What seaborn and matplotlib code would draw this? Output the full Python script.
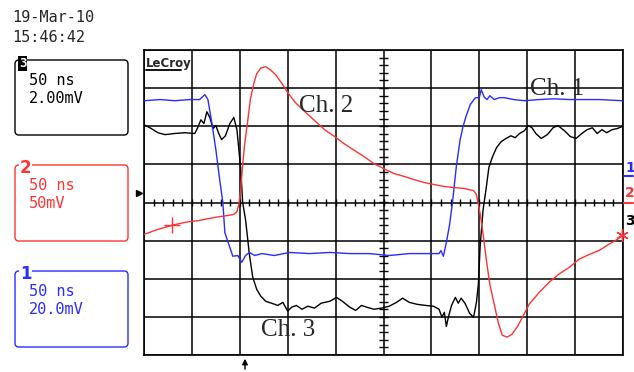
import numpy as np
import pandas as pd
import seaborn as sns
import matplotlib.pyplot as plt
from matplotlib.patches import FancyBboxPatch

# time in ns (50 ns/div, 10 div), level in screen divisions
ch1_t = [0, 16.7, 32, 48, 58, 63.5, 66.7, 70.8, 75, 79, 82.3, 84.4, 87.5, 92.7, 97.9, 102, 106, 110,
         115.6, 123, 136, 152, 173, 194, 215, 235, 256, 277, 298, 308, 310, 312.5, 315.6, 319, 322,
         326, 330, 333, 336, 340.6, 346, 350, 352, 355, 358, 361, 365.6, 371, 376, 386, 397, 412.5,
         428, 444, 459, 475, 499]
ch1_v = [2.67, 2.70, 2.67, 2.70, 2.70, 2.83, 2.70, 2.09, 1.39, 0.60, 0.0, -0.79, -1.02, -1.41, -1.39,
         -1.57, -1.39, -1.31, -1.39, -1.34, -1.39, -1.31, -1.34, -1.31, -1.34, -1.34, -1.39, -1.34,
         -1.34, -1.34, -1.26, -1.41, -1.05, -0.58, 0.0, 0.94, 1.65, 1.99, 2.25, 2.57, 2.75, 2.75, 2.96,
         2.77, 2.70, 2.80, 2.70, 2.75, 2.75, 2.70, 2.67, 2.70, 2.72, 2.70, 2.70, 2.70, 2.67]

ch2_t = [0, 11.5, 22, 29, 42.7, 58, 74, 87.5, 94, 97, 99, 101, 103, 105, 108, 111, 114.6, 117.7, 122,
         127, 132, 137.5, 144, 151, 158, 168, 178, 188.5, 199, 209, 220, 230, 240, 250, 261, 272, 282,
         293, 303, 313.5, 324, 334, 344, 347, 349, 351, 354, 357, 361, 365.6, 370, 374, 379, 384, 390,
         395, 402, 412.5, 423, 433, 444, 454, 465, 475, 485, 494, 499]
ch2_v = [-0.84, -0.73, -0.65, -0.60, -0.52, -0.47, -0.39, -0.34, -0.31, -0.24, -0.05, 0.34, 0.99, 1.52,
         2.09, 2.70, 3.12, 3.38, 3.53, 3.56, 3.48, 3.35, 3.12, 2.85, 2.62, 2.38, 2.15, 1.91, 1.73, 1.54,
         1.36, 1.20, 1.02, 0.89, 0.76, 0.68, 0.60, 0.52, 0.47, 0.42, 0.39, 0.37, 0.31, 0.21, -0.05,
         -0.31, -0.84, -1.44, -2.15, -2.67, -3.17, -3.48, -3.53, -3.46, -3.25, -3.01, -2.67, -2.36,
         -2.09, -1.88, -1.70, -1.49, -1.36, -1.26, -1.10, -0.97, -0.86]

ch3_t = [0, 6.25, 14.6, 21.9, 32, 42.7, 53, 56, 59.4, 62.5, 65.6, 68.75, 72, 75, 78, 81, 85, 89.6,
         93.75, 97, 99, 101, 103, 106, 110, 113.5, 117.7, 122, 127, 133, 139.6, 145, 150, 154, 159,
         165, 171, 178, 185, 194, 201, 207, 215, 221, 227, 233, 240, 248, 256, 263.5, 270, 277, 285,
         294, 302, 308, 311, 313.5, 315.6, 317.7, 321, 325, 328, 331, 335, 340, 344, 347, 349, 351,
         354, 357, 360, 363.5, 368, 373, 378, 383, 387.5, 392, 397, 401, 405, 409, 414.6, 421, 427,
         432, 439, 445, 451, 457, 462.5, 468, 473, 478, 483, 488.5, 494, 499]
ch3_v = [2.04, 1.96, 1.83, 1.78, 1.81, 1.83, 1.81, 1.96, 2.17, 2.07, 2.38, 2.23, 1.94, 2.02, 1.81,
         1.65, 1.75, 2.07, 2.23, 1.91, 1.39, 0.86, 0.0, -0.45, -1.36, -1.96, -2.28, -2.46, -2.59,
         -2.64, -2.70, -2.62, -2.85, -2.75, -2.70, -2.80, -2.72, -2.77, -2.64, -2.59, -2.49, -2.59,
         -2.75, -2.83, -2.70, -2.75, -2.80, -2.77, -2.72, -2.62, -2.51, -2.62, -2.67, -2.70, -2.72,
         -2.80, -3.01, -2.88, -3.25, -3.01, -2.70, -2.49, -2.64, -2.51, -2.64, -2.91, -3.01, -2.62,
         -2.15, -1.10, -0.18, 0.34, 0.92, 1.18, 1.44, 1.60, 1.68, 1.75, 1.70, 1.81, 1.88, 2.02, 1.96,
         1.81, 1.68, 1.78, 1.96, 2.02, 1.88, 1.73, 1.68, 1.81, 1.91, 1.96, 1.81, 1.91, 1.83, 1.91,
         1.94, 1.99]

labels = ["Ch. 1", "Ch. 2", "Ch. 3"]
label_pos = [(403, 2.83), (161.5, 2.38), (122, -3.51)]

panels = [("3", "50 ns", "2.00mV"), ("2", "50 ns", "50mV"), ("1", "50 ns", "20.0mV")]
stamp = ["19-Mar-10", "15:46:42"]

BLUE = "#2b2bff"
RED = "#ff3333"
BLACK = "#000000"
MONO = "DejaVu Sans Mono"

sns.set_style("white")
plt.rcParams["font.family"] = ["DejaVu Sans"]

fig = plt.figure(figsize=(6.34, 3.72), dpi=100)
ax = fig.add_axes([144 / 634, 17 / 372, 479 / 634, 305 / 372])

sns.lineplot(x=ch1_t, y=ch1_v, color=BLUE, lw=1, ax=ax, zorder=4)
sns.lineplot(x=ch3_t, y=ch3_v, color=BLACK, lw=1, ax=ax, zorder=3)
sns.lineplot(x=ch2_t, y=ch2_v, color=RED, lw=1, ax=ax, zorder=5)

# trigger / end markers on ch2
ax.plot(ch2_t[3], ch2_v[3], marker="+", ms=11, mew=1, color=RED, zorder=6)
ax.plot(ch2_t[-1], ch2_v[-1], marker=(6, 2, 0), ms=9, mew=1, color=RED, zorder=6, clip_on=False)

ax.set_xlim(0, 500)
ax.set_ylim(-4, 4)
ax.set_xticks(np.arange(0, 501, 50))
ax.set_yticks(np.arange(-4, 5, 1))
ax.set_xticklabels([])
ax.set_yticklabels([])
ax.tick_params(length=0)
ax.grid(True, color="black", lw=1.1)
ax.set_axisbelow(True)
for s in ax.spines.values():
    s.set_color("black")
    s.set_linewidth(1.2)

# graticule ticks along the centre lines
ax.vlines(np.arange(10, 500, 10), -0.09, 0.09, color="black", lw=1, zorder=2)
ax.hlines(np.arange(-3.8, 4, 0.2), 250 - 5.2, 250 + 5.2, color="black", lw=1, zorder=2)
ax.set_xlabel("")
ax.set_ylabel("")

for lab, (tx, ty) in zip(labels, label_pos):
    ax.text(tx, ty, lab, family="Liberation Serif", fontsize=18, ha="left", va="baseline", zorder=7)

# overlay in pixel coordinates for the scope decorations
ov = fig.add_axes([0, 0, 1, 1], zorder=5)
ov.set_xlim(0, 634)
ov.set_ylim(372, 0)
ov.axis("off")
ov.patch.set_alpha(0)

ov.text(12, 22, stamp[0], family=MONO, fontsize=11, va="baseline", ha="left")
ov.text(12, 42, stamp[1], family=MONO, fontsize=11, va="baseline", ha="left")

boxes = [(60, 135, BLACK), (165, 241, RED), (271, 347, BLUE)]
for (num, l1, l2), (top, bot, col) in zip(panels, boxes):
    ov.add_patch(FancyBboxPatch((15, top), 113, bot - top, boxstyle="round,pad=0,rounding_size=4",
                                fc="none", ec=col, lw=1))
    ov.text(29, top + 25, l1, family=MONO, fontsize=11, color=col, va="baseline")
    ov.text(29, top + 43, l2, family=MONO, fontsize=11, color=col, va="baseline")
    if num == "3":
        ov.text(19, top + 7, num, family=MONO, fontsize=9, fontweight="bold", color="white",
                va="baseline", bbox=dict(fc="black", ec="none", pad=0.6))
    else:
        ov.text(20, top + 8, num, family="DejaVu Sans", fontsize=12, fontweight="bold", color=col,
                va="baseline", bbox=dict(fc="white", ec="none", pad=0.5))

# LeCroy logo
ov.text(146, 67, "LeCroy", family="DejaVu Sans", fontsize=8.5, fontweight="bold", va="baseline")
ov.plot([146, 181], [70, 70], color="black", lw=1.3)

# channel markers on right edge
ov.text(625, 172, "1", family="DejaVu Sans", fontsize=10, fontweight="bold", color=BLUE, va="baseline")
ov.plot([624, 633], [176, 176], color=BLUE, lw=1.5)
ov.text(625, 197, "2", family="DejaVu Sans", fontsize=10, fontweight="bold", color=RED, va="baseline")
ov.plot([624, 633], [203, 203], color=RED, lw=1.5)
ov.text(625, 225, "3", family="DejaVu Sans", fontsize=10, fontweight="bold", color=BLACK, va="baseline")

# ground arrow on left, trigger arrow at bottom
ov.plot([139], [193], marker=">", ms=5, color="black")
ov.annotate("", xy=(245, 356), xytext=(245, 372),
            arrowprops=dict(arrowstyle="-|>", color="black", lw=1, mutation_scale=8))

fig.savefig("out.png", dpi=100)
